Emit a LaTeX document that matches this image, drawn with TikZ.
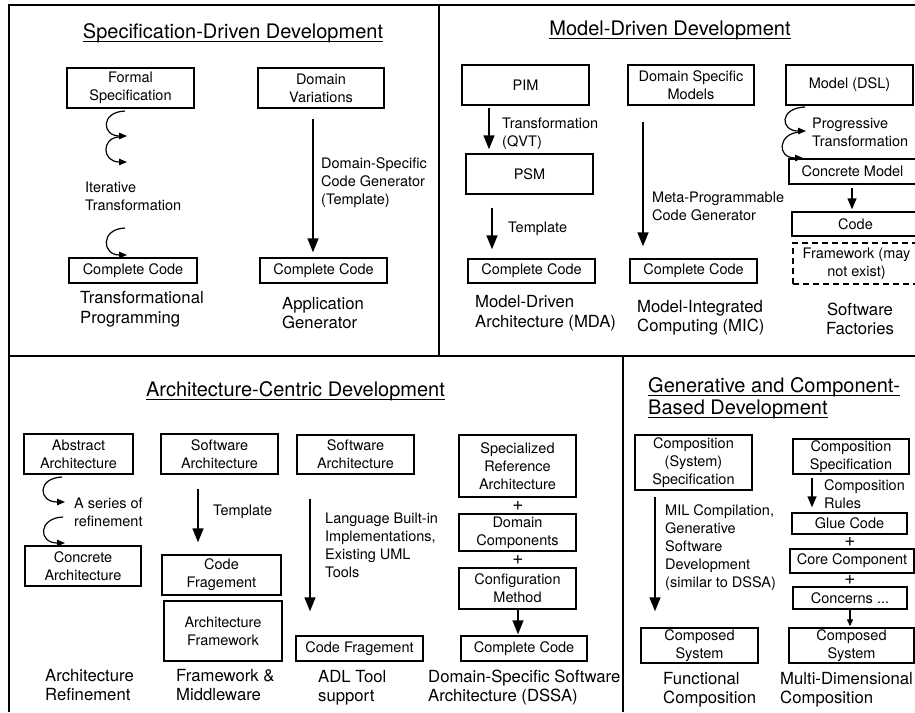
\documentclass[tikz,border=0pt]{standalone}
\usepackage{fontspec}
\setmainfont{TeX Gyre Heros}
\usetikzlibrary{arrows.meta}
\newcommand\boxfnt{\fontsize{14.5}{18}\selectfont}
\newcommand\bigfnt{\fontsize{16.7}{19.5}\selectfont}
\newcommand\ttlfnt{\fontsize{20}{24}\selectfont}
\newcommand\plusfnt{\fontsize{19}{20}\selectfont}
\begin{document}
\begin{tikzpicture}[x=1pt,y=-1pt,
 panel/.style={line width=2pt},
 box/.style={draw, line width=1.4pt, inner sep=0pt, align=center, font=\boxfnt},
 dbox/.style={box, dash pattern=on 6pt off 4pt},
 lbl/.style={inner sep=0pt, align=left, anchor=west, font=\boxfnt},
 biglbl/.style={inner sep=0pt, align=left, anchor=west, font=\bigfnt},
 ttl/.style={inner sep=0pt, anchor=base, font=\ttlfnt},
 uline/.style={line width=1pt},
 plus/.style={inner sep=0pt, font=\plusfnt},
 arr/.style={line width=1.4pt, -{Triangle[length=14pt,width=11pt]}},
 marr/.style={line width=1.4pt, -{Triangle[length=11pt,width=9pt]}},
 sarr/.style={line width=1.2pt, -{Triangle[length=7pt,width=6pt]}},
 curl/.style={line width=1.2pt, -{Triangle[length=8pt,width=6.5pt]}},
]
\useasboundingbox (0,0) rectangle (915,712);
\clip (0,0) rectangle (915,712);
% panels
\draw[panel] (9.3,712) -- (9.3,5) -- (916,5);
\draw[panel] (439,5) -- (439,356);
\draw[panel] (9.3,356) -- (916,356);
\draw[panel] (623,356) -- (623,712);

% ---------- Specification-Driven Development ----------
\node[ttl] (t1) at (233,38) {Specification-Driven Development};
\draw[uline] ([yshift=-3.5pt]t1.base west) -- ([yshift=-3.5pt]t1.base east);
\node[box, minimum width=127pt, minimum height=40pt] (fs) at (130.5,88) {Formal\\Specification};
\node[box, minimum width=126pt, minimum height=40pt] (dv) at (321,88) {Domain\\Variations};
\node[box, minimum width=128pt, minimum height=25pt] (cc1) at (133,270.5) {Complete Code};
\node[box, minimum width=127pt, minimum height=25pt] (cc2) at (323.5,270.5) {Complete Code};
\coordinate (c1s) at (125,111);
\coordinate (c1e) at (127,136);
\coordinate (c2s) at (119,137);
\coordinate (c2e) at (127,162);
\coordinate (c3s) at (125,228);
\coordinate (c3e) at (127,255);
\draw[curl] (c1s) .. controls +(-25,1) and +(-25,0) .. (c1e);
\draw[curl] (c2s) .. controls +(-18,1) and +(-25,0) .. (c2e);
\draw[curl] (c3s) .. controls +(-25,1) and +(-25,0) .. (c3e);
\node[lbl] (l1) at (85,196) {Iterative\\Transformation};
\draw[arr] ([xshift=-8pt,yshift=-10pt]dv.south) -- ([xshift=-10.5pt,yshift=5pt]cc2.north);
\node[lbl] (l2) at (321,183) {Domain-Specific\\Code Generator\\(Template)};
\node[biglbl] (l3) at (80,309) {Transformational\\Programming};
\node[biglbl] (l4) at (282,313) {Application\\Generator};

% ---------- Model-Driven Development ----------
\node[ttl] (t2) at (670,35) {Model-Driven Development};
\draw[uline] ([yshift=-3.5pt]t2.base west) -- ([yshift=-3.5pt]t2.base east);
\node[box, minimum width=127pt, minimum height=40pt] (pim) at (525.5,85) {PIM};
\node[box, minimum width=126pt, minimum height=40pt] (dsm) at (691,85) {Domain Specific\\Models};
\node[box, minimum width=127pt, minimum height=40pt] (mdsl) at (849.5,85) {Model (DSL)};
\node[box, minimum width=127pt, minimum height=40pt] (psm) at (529.5,174) {PSM};
\node[box, minimum width=127pt, minimum height=24pt] (cc3) at (531.5,271) {Complete Code};
\node[box, minimum width=127pt, minimum height=24pt] (cc4) at (693.5,271) {Complete Code};
\node[box, minimum width=127pt, minimum height=25pt] (cm) at (852.5,171.5) {Concrete Model};
\node[box, minimum width=127pt, minimum height=24pt] (code) at (855.5,224) {Code};
\node[dbox, minimum width=127pt, minimum height=41pt] (fw) at (856.5,263.5) {Framework (may\\not exist)};
\draw[arr] ([xshift=-36.5pt,yshift=-2pt]pim.south) -- ([xshift=-40.5pt,yshift=4pt]psm.north);
\node[lbl] (l5) at (502,134) {Transformation\\(QVT)};
\draw[arr] ([xshift=-37.5pt,yshift=-13pt]psm.south) -- ([xshift=-39.5pt,yshift=9pt]cc3.north);
\node[lbl] (l6) at (508,229) {Template};
\draw[arr] ([xshift=-48pt,yshift=-16pt]dsm.south) -- ([xshift=-50.5pt,yshift=12pt]cc4.north);
\node[lbl] (l7) at (652,206) {Meta-Programmable\\Code Generator};
\coordinate (c6s) at (805,107);
\coordinate (c6e) at (806,131);
\coordinate (c7s) at (800,132);
\coordinate (c7e) at (803,158);
\draw[curl] (c6s) .. controls +(-26,1) and +(-26,0) .. (c6e);
\draw[curl] (c7s) .. controls +(-22,1) and +(-27,0) .. (c7e);
\node[lbl] (l10) at (812,132) {Progressive\\Transformation};
\draw[marr] ([xshift=-0.5pt,yshift=-3pt]cm.south) -- ([xshift=-3.5pt,yshift=2pt]code.north);
\node[biglbl] (l8) at (475,313) {Model-Driven\\Architecture (MDA)};
\node[biglbl] (l9) at (637,317.5) {Model-Integrated\\Computing (MIC)};
\node[biglbl, align=center, anchor=center] (l11) at (860,319) {Software\\Factories};

% ---------- Architecture-Centric Development ----------
\node[ttl] (t3) at (295.5,396) {Architecture-Centric Development};
\draw[uline] ([yshift=-3.5pt]t3.base west) -- ([yshift=-3.5pt]t3.base east);
\node[box, minimum width=109pt, minimum height=40pt] (aa) at (78.5,454) {Abstract\\Architecture};
\node[box, minimum width=117pt, minimum height=40pt] (sa1) at (219.5,454) {Software\\Architecture};
\node[box, minimum width=116pt, minimum height=40pt] (ca) at (83,566) {Concrete\\Architecture};
\node[box, minimum width=119pt, minimum height=40pt] (cf1) at (221.5,575) {Code\\Fragement};
\node[box, minimum width=118pt, minimum height=60pt] (af) at (223,631) {Architecture\\Framework};
\node[box, minimum width=117pt, minimum height=39pt] (sa2) at (355.5,454.5) {Software\\Architecture};
\node[box, minimum width=127pt, minimum height=25pt] (cf2) at (359.5,648.5) {Code Fragement};
\node[box, minimum width=117pt, minimum height=62pt] (sra) at (517.5,466) {Specialized\\Reference\\Architecture};
\node[box, minimum width=117pt, minimum height=37pt] (dc) at (517.5,532.5) {Domain\\Components};
\node[box, minimum width=117pt, minimum height=41pt] (cmeth) at (517.5,588.5) {Configuration\\Method};
\node[box, minimum width=126pt, minimum height=25pt] (cc5) at (524,648.5) {Complete Code};
\node[plus] (p1) at (518,505.5) {+};
\node[plus] (p2) at (518,560) {+};
\coordinate (c4s) at (62,477);
\coordinate (c4e) at (65,502);
\coordinate (c5s) at (63,517);
\coordinate (c5e) at (65,543);
\draw[curl] (c4s) .. controls +(-25,1) and +(-27,0) .. (c4e);
\draw[curl] (c5s) .. controls +(-25,1) and +(-27,0) .. (c5e);
\node[lbl] (l12) at (74,512) {A series of\\refinement};
\draw[arr] ([xshift=-21.5pt,yshift=-14pt]sa1.south) -- ([xshift=-23.5pt,yshift=12pt]cf1.north);
\node[lbl] (l13) at (213,512) {Template};
\draw[arr] ([xshift=-45.5pt,yshift=-24pt]sa2.south) -- ([xshift=-49.5pt,yshift=24pt]cf2.north);
\node[lbl] (l14) at (325,545) {Language Built-in\\Implementations,\\Existing UML\\Tools};
\draw[arr] ([xshift=0.5pt]cmeth.south) -- ([xshift=-6pt,yshift=1pt]cc5.north);
\node[biglbl] (l15) at (45,685) {Architecture\\Refinement};
\node[biglbl] (l16) at (176,685) {Framework \&\\Middleware};
\node[biglbl] (l17) at (318,687.5) {ADL Tool\\support};
\node[biglbl] (l18) at (428,687.5) {Domain-Specific Software\\Architecture (DSSA)};

% ---------- Generative and Component-Based Development ----------
\node[ttl, anchor=base west] (t4a) at (648,392) {Generative and Component-};
\draw[uline] ([yshift=-3.5pt]t4a.base west) -- ([yshift=-3.5pt]t4a.base east);
\node[ttl, anchor=base west] (t4b) at (648,414) {Based Development};
\draw[uline] ([yshift=-3.5pt]t4b.base west) -- ([yshift=-3.5pt]t4b.base east);
\node[box, minimum width=117pt, minimum height=55pt] (css) at (693.5,462.5) {Composition\\(System)\\Specification};
\node[box, minimum width=117pt, minimum height=35pt] (cs1) at (699.5,645.5) {Composed\\System};
\node[box, minimum width=116pt, minimum height=35pt] (cspec) at (851,456.5) {Composition\\Specification};
\node[box, minimum width=115pt, minimum height=21pt] (glue) at (849.5,523.5) {Glue Code};
\node[box, minimum width=124pt, minimum height=24pt] (core) at (852,561) {Core Component};
\node[box, minimum width=114pt, minimum height=22pt] (conc) at (850,598) {Concerns ...};
\node[box, minimum width=125pt, minimum height=35pt] (cs2) at (851.5,645.5) {Composed\\System};
\node[plus] (p3) at (850,541.5) {+};
\node[plus] (p4) at (850,580) {+};
\draw[arr] ([xshift=-38.5pt,yshift=-6pt]css.south) -- ([xshift=-44.5pt,yshift=16pt]cs1.north);
\node[lbl] (l19) at (665,547.5) {MIL Compilation,\\Generative\\Software\\Development\\(similar to DSSA)};
\draw[marr] ([xshift=-39pt,yshift=-3pt]cspec.south) -- ([xshift=-37.5pt,yshift=5pt]glue.north);
\node[lbl] (l21) at (824,494.5) {Composition\\Rules};
\draw[sarr] (conc.south) -- ([xshift=-1.5pt,yshift=1pt]cs2.north);
\node[biglbl] (l20) at (663,689.5) {Functional\\Composition};
\node[biglbl] (l22) at (780,689.5) {Multi-Dimensional\\Composition};
\end{tikzpicture}
\end{document}
